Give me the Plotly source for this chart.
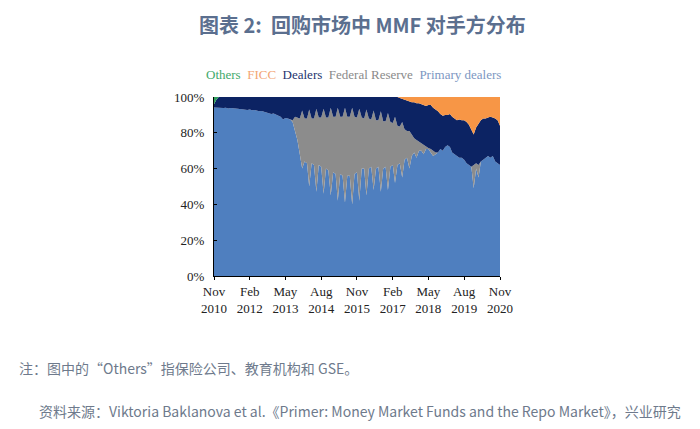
import pandas as pd
import plotly.graph_objects as go

# Monthly observations, Nov 2010 .. Nov 2020 (121 months)
months = pd.date_range("2010-11-01", "2020-11-01", freq="MS")

primary_dealers = [
    94.2, 94.0, 93.8, 94.0, 93.8, 94.0, 93.6, 93.8, 93.5, 93.6,
    93.4, 93.2, 93.3, 93.0, 92.8, 93.0, 92.6, 92.8, 92.4, 92.0,
    92.2, 91.8, 91.2, 91.0, 90.5, 90.8, 90.2, 89.5, 89.0, 87.5,
    88.2, 88.0, 87.5, 86.0, 80.0, 76.0, 68.0, 60.0, 64.0, 63.0,
    50.0, 63.0, 62.0, 47.0, 62.0, 61.0, 46.0, 60.0, 59.0, 45.0,
    58.0, 57.0, 42.0, 57.0, 56.0, 41.0, 56.0, 56.0, 40.0, 57.0,
    58.0, 42.0, 60.0, 60.0, 45.0, 60.0, 61.0, 48.0, 60.0, 61.0,
    47.0, 60.0, 61.0, 48.0, 61.0, 62.0, 52.0, 62.0, 63.0, 55.0,
    65.0, 66.0, 60.0, 67.0, 69.0, 66.0, 70.0, 70.0, 68.0, 71.0,
    71.0, 69.0, 67.0, 68.0, 69.0, 71.0, 70.0, 72.0, 73.0, 72.0,
    69.0, 68.0, 67.0, 66.0, 66.0, 65.0, 63.0, 62.0, 61.0, 49.0,
    60.0, 55.0, 64.0, 65.0, 66.0, 67.0, 66.0, 67.0, 64.0, 63.0,
    62.0,
]

federal_reserve = [
    0, 0, 0, 0, 0, 0, 0, 0, 0, 0,
    0, 0, 0, 0, 0, 0, 0, 0, 0, 0,
    0, 0, 0, 0, 0, 0, 0, 0, 0, 0,
    0, 0, 0, 1.0, 9.0, 12.5, 20.0, 32.5, 24.0, 25.0,
    43.0, 25.0, 26.0, 46.5, 26.5, 27.5, 47.5, 28.5, 29.5, 49.0,
    31.0, 32.0, 52.0, 32.0, 33.0, 53.0, 33.0, 33.0, 54.0, 32.0,
    30.5, 51.5, 28.5, 28.0, 48.0, 28.0, 26.5, 44.5, 27.0, 26.0,
    45.0, 26.5, 25.5, 43.0, 25.0, 23.5, 37.0, 22.0, 20.5, 31.0,
    17.0, 15.0, 21.0, 12.0, 8.0, 10.0, 5.0, 4.0, 5.0, 1.5,
    0.5, 2.0, 3.0, 1.0, 0, 0, 0, 0, 0, 0,
    0, 0, 0, 0, 0, 0, 0, 0, 0, 13.0,
    3.0, 7.0, 0, 0, 0, 0, 0, 0, 0, 0,
    0,
]

dealers = [
    1.8, 4.5, 6.2, 6.0, 6.2, 6.0, 6.4, 6.2, 6.5, 6.4,
    6.6, 6.8, 6.7, 7.0, 7.2, 7.0, 7.4, 7.2, 7.6, 8.0,
    7.8, 8.2, 8.8, 9.0, 9.5, 9.2, 9.8, 10.5, 11.0, 12.5,
    11.8, 12.0, 12.5, 13.0, 11.0, 11.5, 12.0, 7.5, 12.0, 12.0,
    7.0, 12.0, 12.0, 6.5, 11.5, 11.5, 6.5, 11.5, 11.5, 6.0,
    11.0, 11.0, 6.0, 11.0, 11.0, 6.0, 11.0, 11.0, 6.0, 11.0,
    11.5, 6.5, 11.5, 12.0, 7.0, 12.0, 12.5, 7.5, 13.0, 13.0,
    8.0, 13.5, 13.5, 9.0, 14.0, 14.5, 11.0, 16.0, 16.0, 13.0,
    16.5, 17.0, 16.5, 18.0, 20.0, 20.5, 21.5, 22.0, 22.5, 22.5,
    24.0, 24.5, 24.0, 24.0, 23.0, 19.5, 19.5, 18.0, 17.0, 18.5,
    20.0, 20.0, 20.0, 21.5, 21.0, 22.0, 23.0, 22.5, 21.0, 17.0,
    20.0, 23.0, 23.0, 23.0, 22.0, 21.5, 23.0, 21.5, 24.0, 24.0,
    22.0,
]

ficc = [
    0, 0, 0, 0, 0, 0, 0, 0, 0, 0,
    0, 0, 0, 0, 0, 0, 0, 0, 0, 0,
    0, 0, 0, 0, 0, 0, 0, 0, 0, 0,
    0, 0, 0, 0, 0, 0, 0, 0, 0, 0,
    0, 0, 0, 0, 0, 0, 0, 0, 0, 0,
    0, 0, 0, 0, 0, 0, 0, 0, 0, 0,
    0, 0, 0, 0, 0, 0, 0, 0, 0, 0,
    0, 0, 0, 0, 0, 0, 0, 0, 0.5, 1.0,
    1.5, 2.0, 2.5, 3.0, 3.0, 3.5, 3.5, 4.0, 4.5, 5.0,
    4.5, 4.5, 6.0, 7.0, 8.0, 9.5, 10.5, 10.0, 10.0, 9.5,
    11.0, 12.0, 13.0, 12.5, 13.0, 13.0, 14.0, 15.5, 18.0, 21.0,
    17.0, 15.0, 13.0, 12.0, 12.0, 11.5, 11.0, 11.5, 12.0, 13.0,
    16.0,
]

others = [4.0, 1.5] + [0] * 119

series_names = ["Primary dealers", "Federal Reserve", "Dealers", "FICC", "Others"]
series_values = [primary_dealers, federal_reserve, dealers, ficc, others]
fill_colors = ["#4F7FBF", "#8C8C8C", "#0C2363", "#F79646", "#2E9E5B"]
legend_colors = {"Others": "#3FAA6C", "FICC": "#F3A574", "Dealers": "#23346F",
                 "Federal Reserve": "#8A8A8A", "Primary dealers": "#7D97C2"}

tick_vals = ["2010-11-01", "2012-02-01", "2013-05-01", "2014-08-01", "2015-11-01",
             "2017-02-01", "2018-05-01", "2019-08-01", "2020-11-01"]
tick_text = ["Nov<br>2010", "Feb<br>2012", "May<br>2013", "Aug<br>2014", "Nov<br>2015",
             "Feb<br>2017", "May<br>2018", "Aug<br>2019", "Nov<br>2020"]
y_ticks = [0, 20, 40, 60, 80, 100]
y_text = ["0%", "20%", "40%", "60%", "80%", "100%"]

fig = go.Figure()
for name, vals, col in zip(series_names, series_values, fill_colors):
    fig.add_trace(go.Scatter(
        x=months, y=vals, name=name, mode="lines", stackgroup="one",
        line=dict(width=0, color=col), fillcolor=col, hoverinfo="skip",
    ))

serif = "Liberation Serif, Times New Roman, serif"
cjk = "Noto Sans CJK SC, Noto Sans, sans-serif"

# page has an 8px body margin; plot area in page px: x 214..500, y 97..276
fig.update_layout(
    width=692, height=421,
    margin=dict(l=206, r=200, t=89, b=153),
    paper_bgcolor="white", plot_bgcolor="white",
    showlegend=False,
    xaxis=dict(
        type="date", range=["2010-11-01", "2020-11-01"],
        tickvals=tick_vals, ticktext=tick_text,
        showgrid=False, zeroline=False,
        showline=True, linecolor="black", linewidth=1,
        ticks="outside", ticklen=3, tickcolor="black",
        tickfont=dict(family=serif, size=13, color="#222222"),
    ),
    yaxis=dict(
        range=[0, 100], tickvals=y_ticks, ticktext=y_text,
        showgrid=False, zeroline=False,
        showline=True, linecolor="black", linewidth=1,
        ticks="inside", ticklen=3, tickcolor="black",
        ticklabelstandoff=6,
        tickfont=dict(family=serif, size=13, color="#222222"),
    ),
)

PX0, PY0, PW, PH = 214, 276, 286, 179


def px(x):
    return (x - PX0) / PW


def py(y):
    return (PY0 - y) / PH


legend_order = ["Others", "FICC", "Dealers", "Federal Reserve", "Primary dealers"]
legend_html = "&nbsp;&nbsp;".join(
    f"<span style='color:{legend_colors[n]}'>{n}</span>" for n in legend_order)

fig.add_annotation(xref="paper", yref="paper", x=px(353.5), y=py(74),
                   text=legend_html, showarrow=False, xanchor="center", yanchor="middle",
                   font=dict(family=serif, size=13))

fig.add_annotation(xref="paper", yref="paper", x=px(362), y=py(9),
                   text="图表 2:&nbsp;&nbsp;回购市场中 MMF 对手方分布", showarrow=False,
                   xanchor="center", yanchor="top", borderpad=0,
                   font=dict(family=cjk, size=20, color="#5B6F8F", weight=600))

fig.add_annotation(xref="paper", yref="paper", x=px(17), y=py(368),
                   text="注：图中的“Others”指保险公司、教育机构和 GSE。", showarrow=False,
                   xanchor="left", yanchor="middle",
                   font=dict(family=cjk, size=14, color="#6E7A8C"))

fig.add_annotation(xref="paper", yref="paper", x=px(683), y=py(411),
                   text="资料来源：Viktoria Baklanova et al.《Primer: Money Market Funds and the Repo Market》，兴业研究",
                   showarrow=False, xanchor="right", yanchor="middle",
                   font=dict(family=cjk, size=14, color="#6E7A8C"))

fig.write_html("out.html")
